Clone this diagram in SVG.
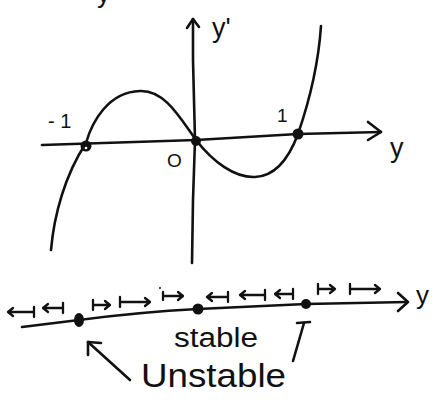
<svg xmlns="http://www.w3.org/2000/svg" width="445" height="400" viewBox="0 0 445 400">
  <style>
    .ln { fill: none; stroke: #111; stroke-width: 2.6; stroke-linecap: round; stroke-linejoin: round; }
    .ar { fill: none; stroke: #111; stroke-width: 2.3; stroke-linecap: round; stroke-linejoin: round; }
    .dot { fill: #111; }
    .t { font-family: "Liberation Sans", "DejaVu Sans", sans-serif; fill: #111; }
  </style>
  <rect width="445" height="400" fill="#fff"/>

  <!-- cut-off label at top -->
  <text class="t" x="97" y="3" font-size="26">y</text>

  <!-- graph of y' against y -->
  <g id="graph-axes">
    <path class="ln" d="M42,145 L196,140 L298,134 L381,132"/>
    <path class="ln" d="M368,122 L381,132 L368,140"/>
    <path class="ln" d="M192,263 L193,200 L195,140 L193,60 L193,19"/>
    <path class="ln" d="M187,28 L193,19 L199,27"/>
  </g>
  <g id="graph-curve">
    <path class="ln" d="M51,250 C54,215 65,175 86,143 C92,122 108,92 140,91 C165,90 180,118 196,140 C213,162 235,178 255,177 C280,176 292,150 298,134 C308,105 318,70 321,26"/>
  </g>
  <g id="graph-points">
    <circle class="dot" cx="86" cy="146" r="5.5"/>
    <circle cx="86" cy="148" r="1.3" fill="#fff"/>
    <circle class="dot" cx="196" cy="141" r="5"/>
    <circle class="dot" cx="298" cy="134" r="5.5"/>
  </g>
  <g id="graph-labels">
    <text class="t" x="212" y="37" font-size="27">y'</text>
    <text class="t" x="48" y="128" font-size="20">- 1</text>
    <text class="t" x="167" y="167" font-size="19">O</text>
    <text class="t" x="277" y="122" font-size="19">1</text>
    <text class="t" x="390" y="157" font-size="27">y</text>
  </g>

  <!-- phase line -->
  <g id="phase-line">
    <path class="ln" d="M22,327 L79,320 Q140,312 198,309 L306,304 L407,302"/>
    <path class="ln" d="M398,293 L408,302 L398,311"/>
    <text class="t" x="416" y="304" font-size="26">y</text>
  </g>
  <g id="phase-points">
    <ellipse class="dot" cx="79" cy="320" rx="5" ry="7"/>
    <circle class="dot" cx="198" cy="309" r="5.5"/>
    <circle class="dot" cx="306" cy="304" r="5"/>
  </g>
  <g id="flow-arrows">
    <!-- left pointing -->
    <path class="ar" d="M8,312 L34,312 M34,307 L34,317 M13,308 L8,312 L13,316"/>
    <path class="ar" d="M43,308 L63,308 M63,303 L63,313 M48,304 L43,308 L48,312"/>
    <!-- right pointing -->
    <path class="ar" d="M93,305 L110,305 M93,300 L93,310 M105,301 L110,305 L105,309"/>
    <path class="ar" d="M120,302 L150,302 M120,297 L120,307 M145,298 L150,302 L145,306"/>
    <path class="ar" d="M163,296 L183,296 M163,292 L163,300 M178,292 L183,296 L178,300"/>
    <circle class="dot" cx="160" cy="288" r="1"/>
    <!-- left pointing -->
    <path class="ar" d="M207,297 L228,297 M228,292 L228,302 M212,293 L207,297 L212,301"/>
    <path class="ar" d="M240,295 L265,295 M265,290 L265,300 M245,291 L240,295 L245,299"/>
    <path class="ar" d="M275,294 L293,294 M293,289 L293,299 M280,290 L275,294 L280,298"/>
    <!-- right pointing -->
    <path class="ar" d="M318,289 L335,289 M318,284 L318,294 M330,285 L335,289 L330,293"/>
    <path class="ar" d="M350,289 L380,289 M350,284 L350,294 M375,285 L380,289 L375,293"/>
  </g>

  <!-- annotations -->
  <g id="label-stable">
    <text class="t" x="174" y="347" font-size="27" textLength="84" lengthAdjust="spacingAndGlyphs">stable</text>
  </g>
  <g id="label-unstable">
    <text class="t" x="141" y="387" font-size="34" textLength="145" lengthAdjust="spacingAndGlyphs">Unstable</text>
    <path class="ln" d="M130,380 L88,342"/>
    <path class="ln" d="M88,355 L88,342 L101,343"/>
    <path class="ln" d="M293,361 L304,323"/>
    <path class="ln" d="M297,323 L310,322"/>
  </g>
</svg>
